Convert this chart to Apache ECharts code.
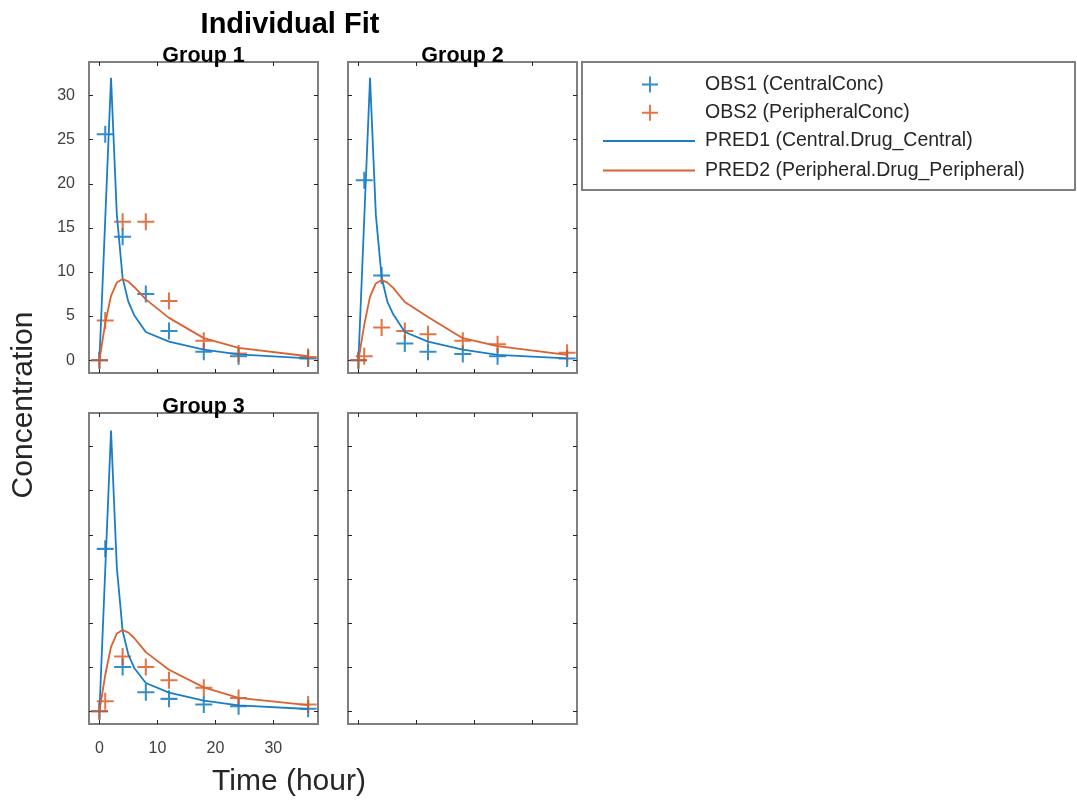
<!DOCTYPE html>
<html><head><meta charset="utf-8">
<script src="https://cdn.jsdelivr.net/npm/echarts@6/dist/echarts.min.js"></script>
<style>html,body{margin:0;padding:0;background:#fff}#c{width:1077px;height:800px}</style>
</head><body><div id="c"></div>
<script>
// ---------- data ----------
const chartTitle = 'Individual Fit';
const groupNames = ['Group 1', 'Group 2', 'Group 3'];
const obsNames = ['OBS1 (CentralConc)', 'OBS2 (PeripheralConc)'];
const predNames = ['PRED1 (Central.Drug_Central)', 'PRED2 (Peripheral.Drug_Peripheral)'];
const xAxisTitle = 'Time (hour)';
const yAxisTitle = 'Concentration';
const xTicks = [0, 10, 20, 30];
const yTicks = [0, 5, 10, 15, 20, 25, 30];

const obsTime = [0, 1, 4, 8, 12, 18, 24, 36];
const g1Obs1 = [0, 25.6, 14.0, 7.5, 3.3, 0.95, 0.45, 0.2];
const g1Obs2 = [0, 4.5, 15.7, 15.7, 6.7, 2.2, 0.75, 0.35];
const g2Obs1 = [0, 20.4, 9.6, 1.9, 0.95, 0.7, 0.45, 0.2];
const g2Obs2 = [0, 0.45, 3.7, 3.3, 2.95, 2.2, 1.8, 0.85];
const g3Obs1 = [0, 18.4, 5.0, 2.15, 1.4, 0.76, 0.57, 0.27];
const g3Obs2 = [0, 1.13, 6.2, 5.0, 3.5, 2.65, 1.5, 0.76];

const predTime = [0, 1, 2, 3, 4, 5, 6, 8, 12, 18, 24, 36];
const g1Pred1 = [0, 16, 32, 16.5, 9.3, 6.6, 5.1, 3.2, 2.1, 1.2, 0.65, 0.2];
const g1Pred2 = [0, 4.2, 7.3, 8.8, 9.2, 8.9, 8.3, 6.9, 4.8, 2.5, 1.4, 0.45];
const g2Pred1 = [0, 16, 32, 16.5, 9.4, 6.6, 5.2, 3.2, 2.1, 1.2, 0.6, 0.2];
const g2Pred2 = [0, 4.0, 7.2, 8.7, 9.1, 8.8, 8.2, 6.6, 4.9, 2.5, 1.6, 0.6];
const g3Pred1 = [0, 16, 31.8, 16.3, 9.1, 6.4, 4.9, 3.2, 2.1, 1.2, 0.65, 0.25];
const g3Pred2 = [0, 4.1, 7.3, 8.8, 9.2, 8.9, 8.3, 6.7, 4.7, 2.7, 1.5, 0.7];

const groupObs = [[g1Obs1, g1Obs2], [g2Obs1, g2Obs2], [g3Obs1, g3Obs2]];
const groupPred = [[g1Pred1, g1Pred2], [g2Pred1, g2Pred2], [g3Pred1, g3Pred2]];

// ---------- styling ----------
const FONT = '"Liberation Sans", Arial, Helvetica, sans-serif';
const C_BLUE = '#0072BD', C_ORANGE = '#D95319';
const C_BLUE_L = '#1a7dc6', C_ORANGE_L = '#dc6130';
const X_MIN = -1.8, X_MAX = 37.7, Y_MIN = -1.45, Y_MAX = 33.8;
const PLUS = 'path://M-1,-0.12L1,-0.12L1,0.12L-1,0.12Z M-0.12,-1L0.12,-1L0.12,1L-0.12,1Z';

const gridBoxes = [
  {left: 89, top: 62, width: 229, height: 311},
  {left: 348, top: 62, width: 229, height: 311},
  {left: 89, top: 413, width: 229, height: 311},
  {left: 348, top: 413, width: 229, height: 311}
];
const grids = gridBoxes.map(g => Object.assign({show: true, borderColor: '#7f7f7f', borderWidth: 2, backgroundColor: 'transparent'}, g));

const tickStyle = {show: true, inside: true, length: 4, lineStyle: {color: '#262626', width: 1}};
function xAx(gi, pos, showLabel) {
  return {type: 'value', gridIndex: gi, position: pos, min: X_MIN, max: X_MAX,
    axisLine: {show: false, onZero: false}, splitLine: {show: false},
    axisTick: Object.assign({customValues: xTicks}, tickStyle),
    axisLabel: {show: showLabel, customValues: xTicks, fontSize: 16, color: '#404040', fontFamily: FONT, margin: 17}};
}
function yAx(gi, pos, showLabel) {
  return {type: 'value', gridIndex: gi, position: pos, min: Y_MIN, max: Y_MAX,
    axisLine: {show: false, onZero: false}, splitLine: {show: false},
    axisTick: Object.assign({customValues: yTicks}, tickStyle),
    axisLabel: {show: showLabel, customValues: yTicks, fontSize: 16, color: '#404040', fontFamily: FONT, margin: 14}};
}
const xAxes = [], yAxes = [];
for (let i = 0; i < 4; i++) {
  xAxes.push(xAx(i, 'bottom', i === 2), xAx(i, 'top', false));
  yAxes.push(yAx(i, 'left', i === 0), yAx(i, 'right', false));
}

const zip = (xs, ys) => xs.map((x, k) => [x, ys[k]]);
const series = [];
for (let g = 0; g < 3; g++) {
  const ax = {xAxisIndex: 2 * g, yAxisIndex: 2 * g};
  series.push(Object.assign({type: 'scatter', name: obsNames[0], data: zip(obsTime, groupObs[g][0]), symbol: PLUS, symbolSize: 17, itemStyle: {color: C_BLUE}, z: 2}, ax));
  series.push(Object.assign({type: 'scatter', name: obsNames[1], data: zip(obsTime, groupObs[g][1]), symbol: PLUS, symbolSize: 17, itemStyle: {color: C_ORANGE}, z: 3}, ax));
  series.push(Object.assign({type: 'line', name: predNames[0], data: zip(predTime, groupPred[g][0]), symbol: 'none', showSymbol: false, lineStyle: {color: C_BLUE_L, width: 1.8}, itemStyle: {color: C_BLUE_L}, z: 4}, ax));
  series.push(Object.assign({type: 'line', name: predNames[1], data: zip(predTime, groupPred[g][1]), symbol: 'none', showSymbol: false, lineStyle: {color: C_ORANGE_L, width: 1.8}, itemStyle: {color: C_ORANGE_L}, z: 5}, ax));
}

const legendText = {fontSize: 19.5, fontFamily: FONT, color: '#262626'};
const legends = [
  {data: obsNames, orient: 'vertical', left: 642, top: 74.5, padding: 0, itemWidth: 16, itemHeight: 16, itemGap: 8.3, selectedMode: false,
    textStyle: Object.assign({padding: [0, 0, 0, 42]}, legendText)},
  {data: predNames.map(n => ({name: n, icon: 'rect'})), orient: 'vertical', left: 603, top: 131, padding: 0, itemWidth: 92, itemHeight: 2, itemGap: 9.5, selectedMode: false,
    textStyle: Object.assign({padding: [0, 0, 0, 5]}, legendText)}
];

const groupTitlePos = [[203.5, 56], [462.5, 56], [203.5, 407.5]];
const graphics = [
  {type: 'rect', z: 0, shape: {x: 582, y: 62, width: 493, height: 128}, style: {fill: '#fff', stroke: '#7f7f7f', lineWidth: 2}},
  {type: 'text', x: 290, y: 25, z: 10, style: {text: chartTitle, fontSize: 29, fontWeight: 'bold', fontFamily: FONT, fill: '#000', textAlign: 'center', textVerticalAlign: 'middle'}},
  {type: 'text', x: 289, y: 782, z: 10, style: {text: xAxisTitle, fontSize: 30, fontFamily: FONT, fill: '#262626', textAlign: 'center', textVerticalAlign: 'middle'}},
  {type: 'text', x: 24, y: 405, rotation: Math.PI / 2, z: 10, style: {text: yAxisTitle, fontSize: 30, fontFamily: FONT, fill: '#262626', textAlign: 'center', textVerticalAlign: 'middle'}}
];
groupNames.forEach((n, i) => graphics.push({type: 'text', x: groupTitlePos[i][0], y: groupTitlePos[i][1], z: 10,
  style: {text: n, fontSize: 21.5, fontWeight: 'bold', fontFamily: FONT, fill: '#000', textAlign: 'center', textVerticalAlign: 'middle'}}));

const chart = echarts.init(document.getElementById('c'), null, {renderer: 'canvas'});
chart.setOption({
  animation: false,
  backgroundColor: '#fff',
  grid: grids,
  xAxis: xAxes,
  yAxis: yAxes,
  legend: legends,
  graphic: graphics,
  series: series
});
</script>
</body></html>
